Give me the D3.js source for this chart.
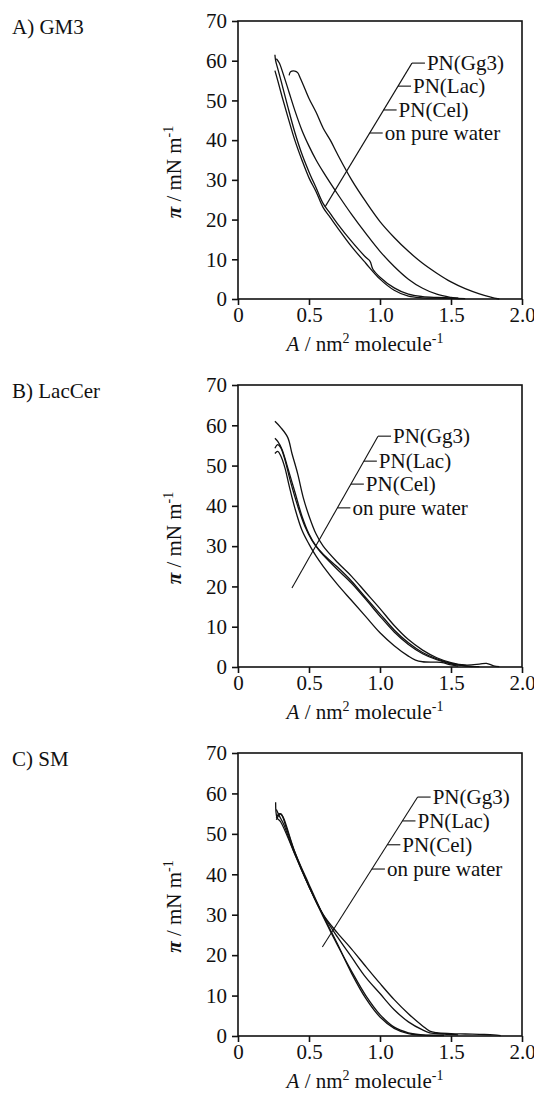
<!DOCTYPE html>
<html>
<head>
<meta charset="utf-8">
<script src="https://cdn.jsdelivr.net/npm/d3@7"></script>
<style>
  html, body { margin: 0; padding: 0; background: #fff; }
  svg { display: block; }
  text { font-family: "Liberation Serif", "Times New Roman", serif; fill: #111; }
</style>
</head>
<body>
<svg id="chart" width="534" height="1099"></svg>
<script>
// ---------- DATA ----------
const panelTitles = ["A) GM3", "B) LacCer", "C) SM"];
const seriesNames = ["PN(Gg3)", "PN(Lac)", "PN(Cel)", "on pure water"];
const xTickValues = [0, 0.5, 1.0, 1.5, 2.0];
const xTickLabels = ["0", "0.5", "1.0", "1.5", "2.0"];
const yTickValues = [0, 10, 20, 30, 40, 50, 60, 70];
const yTickLabels = ["0", "10", "20", "30", "40", "50", "60", "70"];

// Panel A: GM3  ([area nm^2/molecule, pressure mN/m])
const gm3Gg3 = [[0.36,56.3],[0.37,57.2],[0.40,57.4],[0.42,57.0],[0.44,55.5],[0.47,53],[0.5,50.5],[0.55,47],[0.6,43],[0.65,40],[0.7,36.5],[0.8,30],[0.9,24.5],[1.0,19.5],[1.1,15.5],[1.2,12],[1.3,9],[1.4,6.5],[1.5,4.3],[1.6,2.6],[1.7,1.3],[1.78,0.5],[1.84,0]];
const gm3Lac = [[0.27,60.5],[0.29,59.5],[0.32,56.5],[0.36,52],[0.4,47.5],[0.45,42.5],[0.5,38.5],[0.55,35],[0.6,32],[0.7,26.5],[0.8,21.3],[0.9,16.5],[1.0,12],[1.1,8.2],[1.2,5],[1.3,2.7],[1.4,1.2],[1.5,0.4],[1.56,0.1]];
const gm3Cel = [[0.26,61.5],[0.265,60],[0.28,58],[0.31,54],[0.35,48.5],[0.4,42],[0.45,36.5],[0.5,32],[0.55,28],[0.6,24],[0.65,21.5],[0.7,19],[0.8,14.5],[0.9,10.5],[0.93,9.5],[0.95,7.5],[1.0,5.5],[1.1,2.8],[1.2,1.2],[1.3,0.6],[1.4,0.4],[1.5,0.3],[1.55,0.2]];
const gm3Water = [[0.26,57.5],[0.28,55],[0.31,51],[0.35,46],[0.4,40],[0.45,35],[0.5,30.5],[0.55,27],[0.6,23],[0.65,20.5],[0.7,18],[0.8,13.2],[0.9,9],[1.0,5],[1.1,2.2],[1.2,0.7],[1.3,0.3],[1.4,0.2],[1.5,0.15],[1.6,0.1]];

// Panel B: LacCer
const lacGg3 = [[0.26,61],[0.3,59.5],[0.35,57],[0.38,53],[0.42,48],[0.46,42],[0.5,37.5],[0.55,33],[0.6,30],[0.7,26],[0.8,22.5],[0.9,18.5],[1.0,14.5],[1.1,10.3],[1.2,6.8],[1.3,4.2],[1.4,2.3],[1.5,1.1],[1.6,0.5],[1.7,0.7],[1.75,0.9],[1.8,0.3],[1.84,0.1]];
const lacLac = [[0.26,56.8],[0.28,56],[0.31,54],[0.35,49.5],[0.4,43.5],[0.45,37.5],[0.5,33],[0.55,30],[0.6,28],[0.7,24.8],[0.8,21.3],[0.9,17.2],[1.0,13.2],[1.1,9.2],[1.2,6],[1.3,3.6],[1.4,2],[1.5,0.9],[1.6,0.3],[1.7,0.1]];
const lacCel = [[0.26,54.3],[0.28,55.2],[0.3,54.5],[0.33,51.5],[0.37,46],[0.42,40],[0.47,35],[0.52,31.5],[0.57,29],[0.6,27.8],[0.7,24.2],[0.8,20.8],[0.9,16.8],[1.0,12.6],[1.1,8.7],[1.2,5.6],[1.3,3.3],[1.4,1.8],[1.5,0.8],[1.6,0.3],[1.65,0.1]];
const lacWater = [[0.26,53],[0.28,53.5],[0.3,52.5],[0.33,49.5],[0.36,45],[0.4,39.5],[0.45,34],[0.5,30.5],[0.55,27.5],[0.6,25],[0.7,20.5],[0.8,16.5],[0.9,12.5],[1.0,8.5],[1.1,5.3],[1.2,2.7],[1.25,1.7],[1.3,1.3],[1.4,1.2],[1.45,1.0],[1.5,0.5],[1.55,0.2]];

// Panel C: SM
const smGg3 = [[0.27,54],[0.29,55],[0.31,54.5],[0.34,51.5],[0.4,45.5],[0.5,37],[0.6,30],[0.7,25.5],[0.8,21.5],[0.9,17.2],[1.0,13],[1.1,9],[1.2,5.5],[1.3,2.5],[1.35,1.2],[1.4,0.8],[1.5,0.6],[1.6,0.5],[1.7,0.4],[1.8,0.3],[1.85,0.1]];
const smLac = [[0.27,56],[0.29,54.5],[0.32,52.5],[0.4,45],[0.5,37],[0.6,30],[0.7,24.5],[0.8,19.5],[0.9,14.5],[1.0,10.5],[1.1,6.5],[1.2,3.5],[1.3,1.5],[1.35,0.8],[1.45,0.5],[1.55,0.3]];
const smCel = [[0.265,57.8],[0.275,54],[0.3,53],[0.4,45],[0.5,37],[0.6,29.5],[0.7,22.5],[0.8,16],[0.9,10],[1.0,5.3],[1.1,2.2],[1.2,0.8],[1.3,0.3],[1.45,0.2]];
const smWater = [[0.27,53.5],[0.3,55],[0.32,54],[0.4,45.5],[0.5,37.5],[0.6,29.8],[0.7,22.8],[0.8,15.5],[0.9,9.3],[1.0,4.7],[1.1,1.9],[1.2,0.6],[1.3,0.2],[1.45,0.1]];

// Leader-line annotation anchors (data units): diagonal ends, label rows
const leaderA = { bottom: [0.613, 23.2], top: [1.225, 59.4], labelY: [59.4, 53.6, 47.6, 41.8] };
const leaderB = { bottom: [0.380, 19.6], top: [0.986, 57.3], labelY: [57.3, 51.1, 45.4, 39.5] };
const leaderC = { bottom: [0.594, 22.0], top: [1.265, 59.1], labelY: [59.1, 53.2, 47.3, 41.3] };

const panels = [
  { title: panelTitles[0], series: [gm3Gg3, gm3Lac, gm3Cel, gm3Water], leader: leaderA, top: 21, bottom: 299 },
  { title: panelTitles[1], series: [lacGg3, lacLac, lacCel, lacWater], leader: leaderB, top: 385, bottom: 667 },
  { title: panelTitles[2], series: [smGg3, smLac, smCel, smWater], leader: leaderC, top: 753, bottom: 1036 }
];

// ---------- LAYOUT ----------
const svg = d3.select("#chart");
const left = 238, right = 522;
const FS = 21;

panels.forEach(p => {
  const x = d3.scaleLinear().domain([0, 2]).range([left, right]);
  const y = d3.scaleLinear().domain([0, 70]).range([p.bottom, p.top]);
  const g = svg.append("g");

  // title
  g.append("text").attr("x", 12).attr("y", p.top + 13)
    .attr("font-size", FS).text(p.title);

  // frame
  g.append("rect").attr("x", left).attr("y", p.top)
    .attr("width", right - left).attr("height", p.bottom - p.top)
    .attr("fill", "none").attr("stroke", "#111").attr("stroke-width", 1.6);

  // axes
  const xAxis = d3.axisBottom(x).tickValues(xTickValues)
    .tickFormat((d, i) => xTickLabels[i]).tickSize(6).tickPadding(2);
  const ga = g.append("g").attr("transform", `translate(0,${p.bottom})`).call(xAxis);
  const yAxis = d3.axisLeft(y).tickValues(yTickValues)
    .tickFormat((d, i) => yTickLabels[i]).tickSize(6).tickPadding(5);
  const gy = g.append("g").attr("transform", `translate(${left},0)`).call(yAxis);
  [ga, gy].forEach(a => {
    a.select(".domain").remove();
    a.selectAll("line").attr("stroke", "#111").attr("stroke-width", 1.6);
    a.selectAll("text").attr("font-size", FS)
      .attr("font-family", "Liberation Serif, serif").attr("fill", "#111");
  });

  // curves
  const line = d3.line().x(d => x(d[0])).y(d => y(d[1])).curve(d3.curveCatmullRom.alpha(0.5));
  g.selectAll("path.curve").data(p.series).join("path").attr("class", "curve")
    .attr("d", line).attr("fill", "none").attr("stroke", "#111").attr("stroke-width", 1.3);

  // leader lines
  const L = p.leader;
  const x0 = x(L.bottom[0]), y0 = y(L.bottom[1]), x1 = x(L.top[0]), y1 = y(L.top[1]);
  g.append("line").attr("x1", x0).attr("y1", y0).attr("x2", x1).attr("y2", y1)
    .attr("stroke", "#111").attr("stroke-width", 1.1);
  L.labelY.forEach((v, i) => {
    const yy = y(v);
    const xd = x0 + (x1 - x0) * (yy - y0) / (y1 - y0);
    g.append("line").attr("x1", xd).attr("y1", yy).attr("x2", xd + 13).attr("y2", yy)
      .attr("stroke", "#111").attr("stroke-width", 1.1);
    g.append("text").attr("x", xd + 15).attr("y", yy + 7)
      .attr("font-size", FS).text(seriesNames[i]);
  });

  // x label
  const xl = g.append("text").attr("x", left + 127).attr("y", p.bottom + 52)
    .attr("text-anchor", "middle").attr("font-size", FS);
  xl.append("tspan").attr("font-style", "italic").text("A");
  xl.append("tspan").text(" / nm");
  xl.append("tspan").attr("font-size", 14).attr("dy", -8).text("2");
  xl.append("tspan").attr("dy", 8).text(" molecule");
  xl.append("tspan").attr("font-size", 14).attr("dy", -8).text("-1");

  // y label
  const cy = (p.top + p.bottom) / 2 + 12;
  const yl = g.append("text").attr("transform", `translate(181,${cy}) rotate(-90)`)
    .attr("text-anchor", "middle").attr("font-size", FS);
  yl.append("tspan").attr("font-style", "italic").attr("font-weight", "bold").text("π");
  yl.append("tspan").text(" / mN m");
  yl.append("tspan").attr("font-size", 14).attr("dy", -8).text("-1");
});
</script>
</body>
</html>
